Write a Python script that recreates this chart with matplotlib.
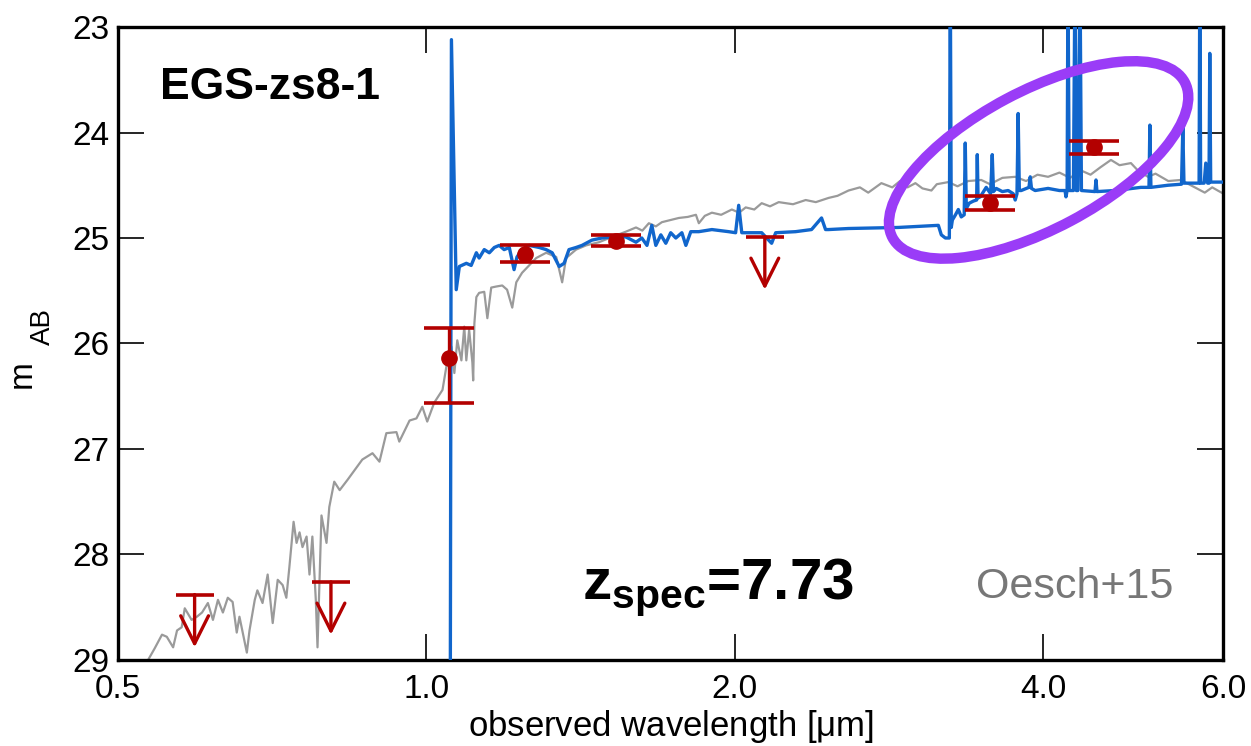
import matplotlib
matplotlib.use("Agg")
import matplotlib.pyplot as plt
import matplotlib.transforms as mtransforms
from matplotlib.patches import Ellipse

plt.rcParams['font.family'] = ['Liberation Sans', 'DejaVu Sans']
plt.rcParams['mathtext.fontset'] = 'custom'
plt.rcParams['mathtext.rm'] = 'Liberation Sans'
plt.rcParams['mathtext.bf'] = 'Liberation Sans:bold'
plt.rcParams['mathtext.it'] = 'Liberation Sans:italic'

# ---- data ----
# low-z / alternative template (gray)
gray_wl = [0.535, 0.543, 0.552, 0.558, 0.566, 0.571, 0.577, 0.581, 0.590, 0.597,
           0.604, 0.612, 0.619, 0.626, 0.633, 0.640, 0.647, 0.653, 0.657, 0.668,
           0.672, 0.680, 0.684, 0.692, 0.700, 0.708, 0.716, 0.724, 0.730, 0.735,
           0.742, 0.747, 0.752, 0.757, 0.764, 0.769, 0.774, 0.780, 0.783, 0.790,
           0.799, 0.804, 0.813, 0.823, 0.838, 0.866, 0.886, 0.900, 0.914, 0.935,
           0.941, 0.963, 0.978, 0.991, 1.002, 1.018, 1.037, 1.046, 1.058, 1.065,
           1.072, 1.082, 1.089, 1.094, 1.101, 1.109, 1.111, 1.114, 1.119, 1.126,
           1.139, 1.147, 1.157, 1.170, 1.186, 1.199, 1.213, 1.224, 1.240, 1.260,
           1.280, 1.309, 1.339, 1.357, 1.369, 1.400, 1.432, 1.474, 1.518, 1.566,
           1.602, 1.625, 1.649, 1.675, 1.698, 1.730, 1.764, 1.800, 1.833, 1.845,
           1.870, 1.900, 1.940, 1.987, 2.020, 2.050, 2.090, 2.125, 2.165, 2.208,
           2.280, 2.346, 2.400, 2.470, 2.520, 2.583, 2.650, 2.700, 2.781, 2.850,
           2.900, 2.950, 3.002, 3.050, 3.112, 3.150, 3.233, 3.300, 3.380, 3.481,
           3.550, 3.650, 3.757, 3.850, 3.950, 4.045, 4.150, 4.250, 4.356, 4.450,
           4.550, 4.659, 4.750, 4.873, 4.950, 5.063, 5.150, 5.300, 5.451, 5.600,
           5.753, 5.850, 5.923, 6.000]
gray_mag = [29.00, 28.89, 28.76, 28.78, 28.88, 28.72, 28.69, 28.51, 28.62, 28.59,
            28.55, 28.46, 28.62, 28.43, 28.55, 28.41, 28.45, 28.74, 28.59, 28.93,
            28.72, 28.43, 28.34, 28.46, 28.19, 28.65, 28.24, 28.29, 28.41, 28.12,
            27.69, 27.89, 27.79, 27.93, 27.83, 28.19, 27.83, 28.43, 28.88, 27.63,
            27.89, 27.55, 27.31, 27.39, 27.29, 27.10, 27.04, 27.12, 26.85, 26.84,
            26.93, 26.73, 26.71, 26.60, 26.74, 26.56, 26.44, 26.22, 26.03, 26.28,
            25.97, 26.16, 25.84, 26.16, 25.87, 26.18, 26.35, 25.81, 25.56, 25.52,
            25.51, 25.76, 25.47, 25.46, 25.45, 25.49, 25.66, 25.42, 25.33, 25.26,
            25.19, 25.14, 25.18, 25.42, 25.19, 25.11, 25.07, 25.04, 24.99, 24.94,
            24.90, 24.93, 24.86, 24.89, 24.85, 24.83, 24.81, 24.80, 24.78, 24.86,
            24.79, 24.76, 24.78, 24.73, 24.76, 24.71, 24.73, 24.67, 24.70, 24.66,
            24.68, 24.64, 24.66, 24.62, 24.60, 24.55, 24.52, 24.57, 24.48, 24.52,
            24.46, 24.52, 24.48, 24.53, 24.55, 24.49, 24.47, 24.51, 24.46, 24.45,
            24.49, 24.43, 24.42, 24.46, 24.40, 24.42, 24.38, 24.43, 24.36, 24.40,
            24.33, 24.26, 24.31, 24.29, 24.36, 24.42, 24.39, 24.46, 24.45, 24.51,
            24.57, 24.52, 24.55, 24.58]

# best-fit z=7.73 template (blue)
blue_wl = [1.0546, 1.0580, 1.0695, 1.077, 1.094, 1.106, 1.119, 1.126, 1.139, 1.152,
           1.165, 1.178, 1.191, 1.205, 1.218, 1.226, 1.240, 1.260, 1.289, 1.309,
           1.327, 1.348, 1.363, 1.378, 1.400, 1.419, 1.451, 1.484, 1.518, 1.566,
           1.602, 1.623, 1.642, 1.660, 1.675, 1.694, 1.713, 1.732, 1.752, 1.776,
           1.792, 1.812, 1.845, 1.900, 1.973, 2.004, 2.018, 2.032, 2.125, 2.173,
           2.193, 2.293, 2.377, 2.431, 2.453, 2.470, 2.583, 2.889, 3.161, 3.182,
           3.211, 3.240, 3.247, 3.254, 3.262, 3.285, 3.306, 3.328, 3.350, 3.358,
           3.366, 3.388, 3.420, 3.445, 3.450, 3.456, 3.473, 3.520, 3.555, 3.568,
           3.578, 3.600, 3.650, 3.698, 3.740, 3.757, 3.772, 3.782, 3.792, 3.808,
           3.875, 3.886, 3.897, 3.929, 4.045, 4.150, 4.202, 4.211, 4.222, 4.230,
           4.242, 4.259, 4.282, 4.297, 4.310, 4.325, 4.346, 4.360, 4.495, 4.505,
           4.515, 4.701, 4.983, 5.075, 5.085, 5.097, 5.295, 5.460, 5.476, 5.490,
           5.664, 5.680, 5.689, 5.700, 5.727, 5.745, 5.766, 5.790, 5.808, 5.818,
           5.830, 5.923, 6.000]
blue_mag = [31.00, 23.12, 25.49, 25.27, 25.24, 25.26, 25.14, 25.19, 25.11, 25.14,
            25.09, 25.07, 25.11, 25.09, 25.30, 25.18, 25.11, 25.07, 25.09, 25.11,
            25.14, 25.27, 25.24, 25.11, 25.09, 25.07, 25.02, 25.00, 24.99, 24.99,
            25.04, 25.00, 25.07, 24.88, 25.07, 24.97, 25.05, 24.95, 25.00, 24.95,
            25.07, 24.94, 24.94, 24.92, 24.94, 24.95, 24.69, 24.95, 24.95, 25.05,
            24.95, 24.94, 24.92, 24.81, 24.92, 24.92, 24.91, 24.90, 24.88, 24.97,
            25.00, 25.00, 22.50, 24.90, 24.83, 24.78, 24.73, 24.80, 24.78, 24.10,
            24.72, 24.67, 24.65, 24.64, 24.21, 24.62, 24.61, 24.52, 24.58, 24.21,
            24.56, 24.53, 24.56, 24.55, 24.58, 24.64, 24.58, 23.82, 24.55, 24.55,
            24.52, 24.42, 24.53, 24.55, 24.53, 24.55, 24.55, 24.61, 24.55, 22.50,
            24.55, 24.55, 24.55, 22.50, 24.55, 24.55, 22.50, 24.55, 24.56, 24.45,
            24.56, 24.55, 24.52, 24.52, 23.93, 24.52, 24.50, 24.49, 23.95, 24.48,
            24.48, 24.48, 22.50, 24.48, 24.48, 24.48, 24.29, 24.48, 24.48, 23.25,
            24.47, 24.47, 24.47]

# photometry: detections (Y105, J125, H160, IRAC 3.6, IRAC 4.5)
det_wl = [1.053, 1.249, 1.530, 3.55, 4.48]
det_mag = [26.14, 25.15, 25.03, 24.67, 24.14]
det_err_bright = [0.29, 0.08, 0.06, 0.07, 0.06]
det_err_faint = [0.42, 0.08, 0.05, 0.06, 0.06]

# upper limits (V606, I814, K)
ul_wl = [0.594, 0.807, 2.14]
ul_mag = [28.38, 28.26, 24.99]
ul_arrow = 0.5

xticks = [0.5, 1.0, 2.0, 4.0, 6.0]
xtick_labels = ['0.5', '1.0', '2.0', '4.0', '6.0']
yticks = [23, 24, 25, 26, 27, 28, 29]

red = '#b30000'
blue = '#1166cc'
gray = '#9a9a9a'
purple = '#9a3cf7'

fig = plt.figure(figsize=(12.51, 7.46), dpi=100)
ax = fig.add_axes([0.0943, 0.1153, 0.8837, 0.8485])

ax.plot(gray_wl, gray_mag, color=gray, lw=1.6, zorder=2)
ax.plot(blue_wl, blue_mag, color=blue, lw=2.4, zorder=3)

# highlighted region
cx, cy = 3.96, 24.26
trans = fig.dpi_scale_trans + mtransforms.ScaledTranslation(cx, cy, ax.transData)
ell = Ellipse((0, 0), width=3.31, height=1.38, angle=28, transform=trans,
              fill=False, edgecolor=purple, lw=7.5, zorder=4)
ax.add_patch(ell)

ax.errorbar(det_wl, det_mag, yerr=[det_err_bright, det_err_faint], fmt='o',
            color=red, ms=11, elinewidth=2.4, capsize=18, capthick=2.6, zorder=5)

ax.plot(ul_wl, ul_mag, linestyle='none', marker='_', ms=27, mew=2.6,
        color=red, zorder=5)
for w, m in zip(ul_wl, ul_mag):
    ax.annotate('', xy=(w, m + ul_arrow), xytext=(w, m),
                arrowprops=dict(arrowstyle='->,head_length=1.0,head_width=0.5',
                                color=red, lw=2.4, mutation_scale=20,
                                shrinkA=0, shrinkB=0),
                zorder=5)

ax.set_xscale('log')
ax.set_xlim(0.5, 6.0)
ax.set_ylim(29, 23)
ax.set_xticks(xticks)
ax.set_xticklabels(xtick_labels)
ax.minorticks_off()
ax.set_yticks(yticks)

ax.tick_params(direction='in', length=19, width=1.2, labelsize=24,
               top=True, right=True)
ax.tick_params(axis='x', pad=10)
ax.tick_params(axis='y', pad=6)
for s in ax.spines.values():
    s.set_linewidth(2.4)

ax.set_xlabel('observed wavelength [$\\mathrm{\\mu}$m]', fontsize=25, labelpad=2)

# y label: "m" with a lowered "AB"
fig.text(0.0176, 0.4987, 'm', rotation=90, fontsize=24, ha='center', va='center')
fig.text(0.0340, 0.5617, 'AB', rotation=90, fontsize=20, ha='center', va='center')

ax.text(0.038, 0.905, 'EGS-zs8-1', transform=ax.transAxes, fontsize=32,
        fontweight='bold', va='center', ha='left')
ax.text(0.42, 0.115, r'$\mathbf{z}_\mathbf{spec}$=7.73', transform=ax.transAxes,
        fontsize=42, fontweight='bold', va='center', ha='left')
ax.text(0.955, 0.115, 'Oesch+15', transform=ax.transAxes, fontsize=31,
        color='#777777', va='center', ha='right')

fig.savefig('out.png', dpi=100)
